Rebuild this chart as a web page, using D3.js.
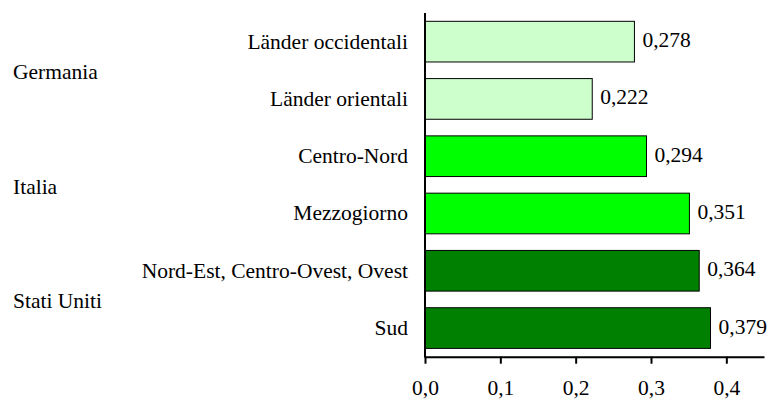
<!DOCTYPE html>
<html>
<head>
<meta charset="utf-8">
<script src="https://cdn.jsdelivr.net/npm/d3@7"></script>
</head>
<body style="margin:0">
<svg id="chart" width="769" height="400"></svg>
<script>
const categories = ["Länder occidentali", "Länder orientali", "Centro-Nord", "Mezzogiorno", "Nord-Est, Centro-Ovest, Ovest", "Sud"];
const groups = ["Germania", "Germania", "Italia", "Italia", "Stati Uniti", "Stati Uniti"];
const groupNames = ["Germania", "Italia", "Stati Uniti"];
const values = [0.278, 0.222, 0.294, 0.351, 0.364, 0.379];
const valueLabels = ["0,278", "0,222", "0,294", "0,351", "0,364", "0,379"];
const tickValues = [0, 0.1, 0.2, 0.3, 0.4];
const tickLabels = ["0,0", "0,1", "0,2", "0,3", "0,4"];
const groupColors = {"Germania": "#ccffcc", "Italia": "#00ff00", "Stati Uniti": "#008000"};

const FONT = "Liberation Serif";
const FS = 21.5;
const svg = d3.select("#chart");
const mLeft = 425, mRight = 764, mTop = 13, mBottom = 356.7;

const x = d3.scaleLinear().domain([0, 0.45]).range([mLeft, mRight]);
const y = d3.scaleBand().domain(categories).range([mTop, mBottom]).paddingInner(0.29).paddingOuter(0.145);

// bars
svg.append("g").selectAll("rect").data(categories).join("rect")
  .attr("x", x(0))
  .attr("y", d => y(d))
  .attr("width", (d, i) => x(values[i]) - x(0))
  .attr("height", y.bandwidth())
  .attr("fill", (d, i) => groupColors[groups[i]])
  .attr("stroke", "#000")
  .attr("stroke-width", 1);

const textG = svg.append("g").attr("font-family", FONT).attr("font-size", FS).attr("fill", "#000");

// value labels
textG.append("g").selectAll("text").data(categories).join("text")
  .attr("font-family", FONT)
  .attr("x", (d, i) => x(values[i]) + 8)
  .attr("y", (d, i) => y(d) + y.bandwidth() / 2 + 5.5)
  .text((d, i) => valueLabels[i]);

// category labels
textG.append("g").selectAll("text").data(categories).join("text")
  .attr("font-family", FONT)
  .attr("x", 408)
  .attr("y", d => y(d) + y.bandwidth() / 2 + 7)
  .attr("text-anchor", "end")
  .text(d => d);

// group labels
textG.append("g").selectAll("text").data(groupNames).join("text")
  .attr("font-family", FONT)
  .attr("x", 13)
  .attr("y", g => {
    const idx = categories.filter((c, i) => groups[i] === g);
    const c0 = y(idx[0]) + y.bandwidth() / 2;
    const c1 = y(idx[idx.length - 1]) + y.bandwidth() / 2;
    return (c0 + c1) / 2 + 9;
  })
  .text(g => g);

// x axis
const xAxis = d3.axisBottom(x).tickValues(tickValues).tickFormat((d, i) => tickLabels[i]).tickSize(7).tickSizeOuter(0);
const gx = svg.append("g").attr("transform", `translate(0,${mBottom})`).call(xAxis);
gx.attr("font-family", FONT).attr("font-size", FS);
gx.select(".domain").attr("stroke", "#000").attr("stroke-width", 2);
gx.selectAll(".tick line").attr("stroke", "#000").attr("stroke-width", 2);
gx.selectAll(".tick text").attr("y", 38).attr("dy", null).attr("fill", "#000").attr("font-family", FONT);

// y axis line
svg.append("line")
  .attr("x1", mLeft).attr("x2", mLeft)
  .attr("y1", mTop).attr("y2", mBottom + 1)
  .attr("stroke", "#000").attr("stroke-width", 2);
</script>
</body>
</html>
